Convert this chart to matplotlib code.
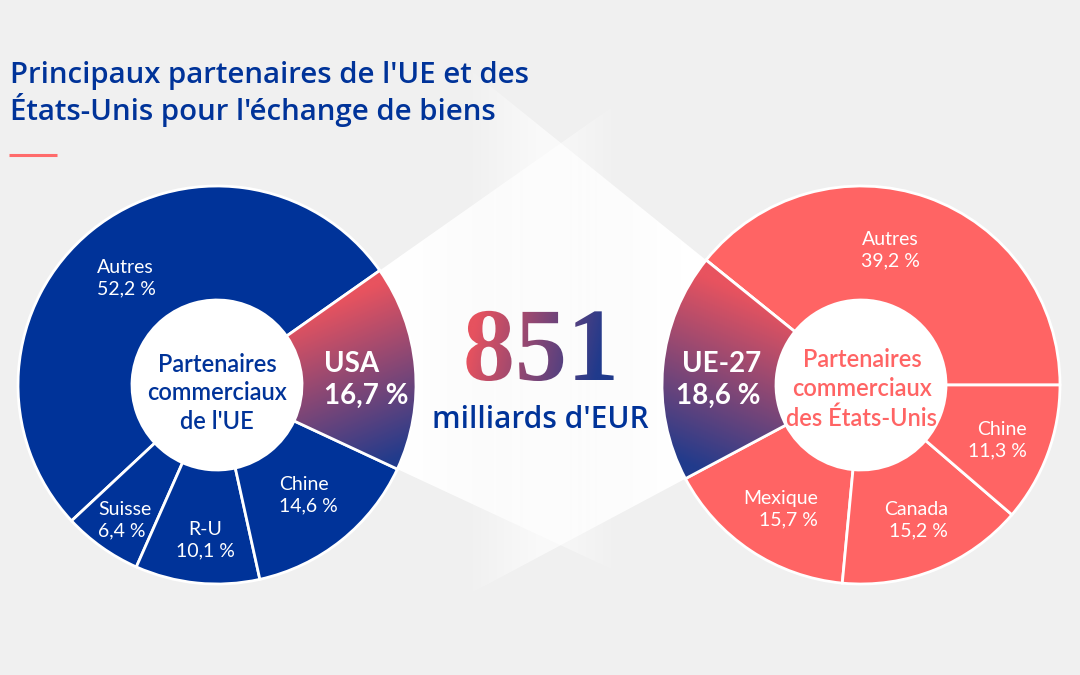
import numpy as np
import matplotlib
matplotlib.use("Agg")
import matplotlib.pyplot as plt
from matplotlib.patches import Wedge, Circle, Polygon, PathPatch
from matplotlib.textpath import TextPath
from matplotlib.font_manager import FontProperties
from matplotlib.transforms import Affine2D
from matplotlib.colors import to_rgb

plt.rcParams['font.family'] = ['Lato', 'DejaVu Sans']

# --- données ---
ue_labels = ["USA", "Autres", "Suisse", "R-U", "Chine"]
ue_values = [16.7, 52.2, 6.4, 10.1, 14.6]

us_labels = ["Autres", "UE-27", "Mexique", "Canada", "Chine"]
us_values = [39.2, 18.6, 15.7, 15.2, 11.3]

total_echanges = "851"
unite = "milliards d'EUR"
titre = ["Principaux partenaires de l'UE et des",
         "États-Unis pour l'échange de biens"]

BLEU = "#003399"
CORAIL = "#ff6464"
ROUGE_GRAD = "#e8535f"
NAVY_GRAD = "#213b8c"
FOND = "#f0f0f0"

W, H = 1080, 675
def Y(y):
    return H - y

def fmt(v):
    return f"{v:.1f}".replace(".", ",") + " %"

fig = plt.figure(figsize=(10.8, 6.75), dpi=100, facecolor=FOND)
ax = fig.add_axes([0, 0, 1, 1])
ax.set_facecolor(FOND)

R, r = 199, 85
c_ue = (217, Y(385))
c_us = (861, Y(385))


def gradient_fill(patch, p0, p1, col0, col1, zorder, alpha=None):
    ext = patch.get_path().get_extents(patch.get_patch_transform())
    x0, y0, x1, y1 = ext.x0, ext.y0, ext.x1, ext.y1
    xs = np.linspace(x0, x1, 300)
    ys = np.linspace(y0, y1, 300)
    X, Yg = np.meshgrid(xs, ys)
    dx, dy = p1[0] - p0[0], p1[1] - p0[1]
    t = ((X - p0[0]) * dx + (Yg - p0[1]) * dy) / (dx * dx + dy * dy)
    t = np.clip(t, 0, 1)[..., None]
    rgb = np.array(to_rgb(col0)) * (1 - t) + np.array(to_rgb(col1)) * t
    if alpha is not None:
        rgb = np.concatenate([rgb, alpha(X, Yg)[..., None]], axis=2)
    im = ax.imshow(rgb, extent=(x0, x1, y0, y1), origin='lower',
                   zorder=zorder, interpolation='bilinear')
    im.set_clip_path(patch)
    return im


# --- donuts ---
w_ue, _ = ax.pie(ue_values, startangle=-25, counterclock=True, center=c_ue,
                 radius=R, colors=[BLEU] * 5, frame=True,
                 wedgeprops=dict(width=R - r, edgecolor='white', linewidth=2))
w_us, _ = ax.pie(us_values, startangle=0, counterclock=True, center=c_us,
                 radius=R, colors=[CORAIL] * 5, frame=True,
                 wedgeprops=dict(width=R - r, edgecolor='white', linewidth=2))
for w in list(w_ue) + list(w_us):
    w.set_zorder(2)

# cônes blancs en arrière-plan
def cone(center, wedge, fade):
    L = 700
    a1, a2 = np.deg2rad(wedge.theta1), np.deg2rad(wedge.theta2)
    pts = [center,
           (center[0] + L * np.cos(a1), center[1] + L * np.sin(a1)),
           (center[0] + L * np.cos(a2), center[1] + L * np.sin(a2))]
    poly = Polygon(pts, closed=True, facecolor='none', edgecolor='none')
    ax.add_patch(poly)
    gradient_fill(poly, (0, 0), (1, 0), "white", "white", 0.5, alpha=fade)

cone(c_ue, w_ue[0],
     lambda X, Yg: np.interp(X, [400, 545, 620], [1, 0.6, 0]))
cone(c_us, w_us[1],
     lambda X, Yg: np.interp(X, [465, 535, 680], [0, 0.6, 1]))

# secteurs en dégradé (USA / UE-27)
for w, p0, p1 in [(w_ue[0], (340, Y(300)), (405, Y(455))),
                  (w_us[1], (760, Y(300)), (690, Y(465)))]:
    w.set_facecolor(NAVY_GRAD)
    gradient_fill(w, p0, p1, ROUGE_GRAD, NAVY_GRAD, 2.5)
    ax.add_patch(Wedge(w.center, w.r, w.theta1, w.theta2, width=w.width,
                       fill=False, edgecolor='white', linewidth=2, zorder=3))

# trous blancs
ax.add_patch(Circle(c_ue, r, facecolor='white', edgecolor='none', zorder=3))
ax.add_patch(Circle(c_us, r, facecolor='white', edgecolor='none', zorder=3))

# --- étiquettes ---
small = dict(color='white', fontsize=14, linespacing=1.3, zorder=5, va='center')
big = dict(color='white', fontsize=20, fontweight='bold', linespacing=1.3,
           zorder=5, va='center')

ue = dict(zip(ue_labels, ue_values))
us = dict(zip(us_labels, us_values))

ax.text(97, Y(278), f"Autres\n{fmt(ue['Autres'])}", ha='left', **small)
ax.text(98, Y(520), f"Suisse\n{fmt(ue['Suisse'])}", ha='left', **small)
ax.text(205, Y(540), f"R-U\n{fmt(ue['R-U'])}", ha='center', **small)
ax.text(279, Y(495), f"Chine\n{fmt(ue['Chine'])}", ha='left', **small)
ax.text(324, Y(380), f"USA\n{fmt(ue['USA'])}", ha='left', **big)

ax.text(890, Y(250), f"Autres\n{fmt(us['Autres'])}", ha='center', **small)
ax.text(1027, Y(440), f"Chine\n{fmt(us['Chine'])}", ha='right', **small)
ax.text(948, Y(520), f"Canada\n{fmt(us['Canada'])}", ha='right', **small)
ax.text(818, Y(509), f"Mexique\n{fmt(us['Mexique'])}", ha='right', **small)
ax.text(761, Y(380), f"UE-27\n{fmt(us['UE-27'])}", ha='right', **big)

ax.text(c_ue[0], Y(393), "Partenaires\ncommerciaux\nde l'UE", ha='center',
        va='center', color=BLEU, fontsize=17, fontweight='semibold',
        linespacing=1.3, zorder=5)
ax.text(c_us[0] + 1, Y(389), "Partenaires\ncommerciaux\ndes États-Unis",
        ha='center', va='center', color=CORAIL, fontsize=17,
        fontweight='semibold', linespacing=1.3, zorder=5)

# --- chiffre central ---
tp = TextPath((0, 0), total_echanges, size=104,
              prop=FontProperties(family='Liberation Serif', weight='bold'))
ext = tp.get_extents()
path = Affine2D().translate(540 - (ext.x0 + ext.x1) / 2, Y(380)).transform_path(tp)
num = PathPatch(path, facecolor='none', edgecolor='none')
ax.add_patch(num)
gradient_fill(num, (475, Y(330)), (600, Y(360)), "#e6525f", "#203a8c", 4)

titre_font = ['Open Sans', 'Lato', 'DejaVu Sans']
ax.text(540, Y(420), unite, ha='center', va='center', color=BLEU,
        fontsize=21.5, fontweight='semibold', family=titre_font, zorder=5)

# --- titre ---
ax.text(10, Y(83), titre[0], ha='left', va='baseline', color=BLEU,
        fontsize=21.2, fontweight='semibold', family=titre_font)
ax.text(10, Y(120), titre[1], ha='left', va='baseline', color=BLEU,
        fontsize=21.2, fontweight='semibold', family=titre_font)
ax.plot([9, 57], [Y(155), Y(155)], color="#ff6b6b", lw=2.2,
        solid_capstyle='butt')

ax.set_xlim(0, W)
ax.set_ylim(0, H)
ax.set_aspect('equal')
ax.set_axis_off()

fig.savefig("out.png", dpi=100, facecolor=FOND)
